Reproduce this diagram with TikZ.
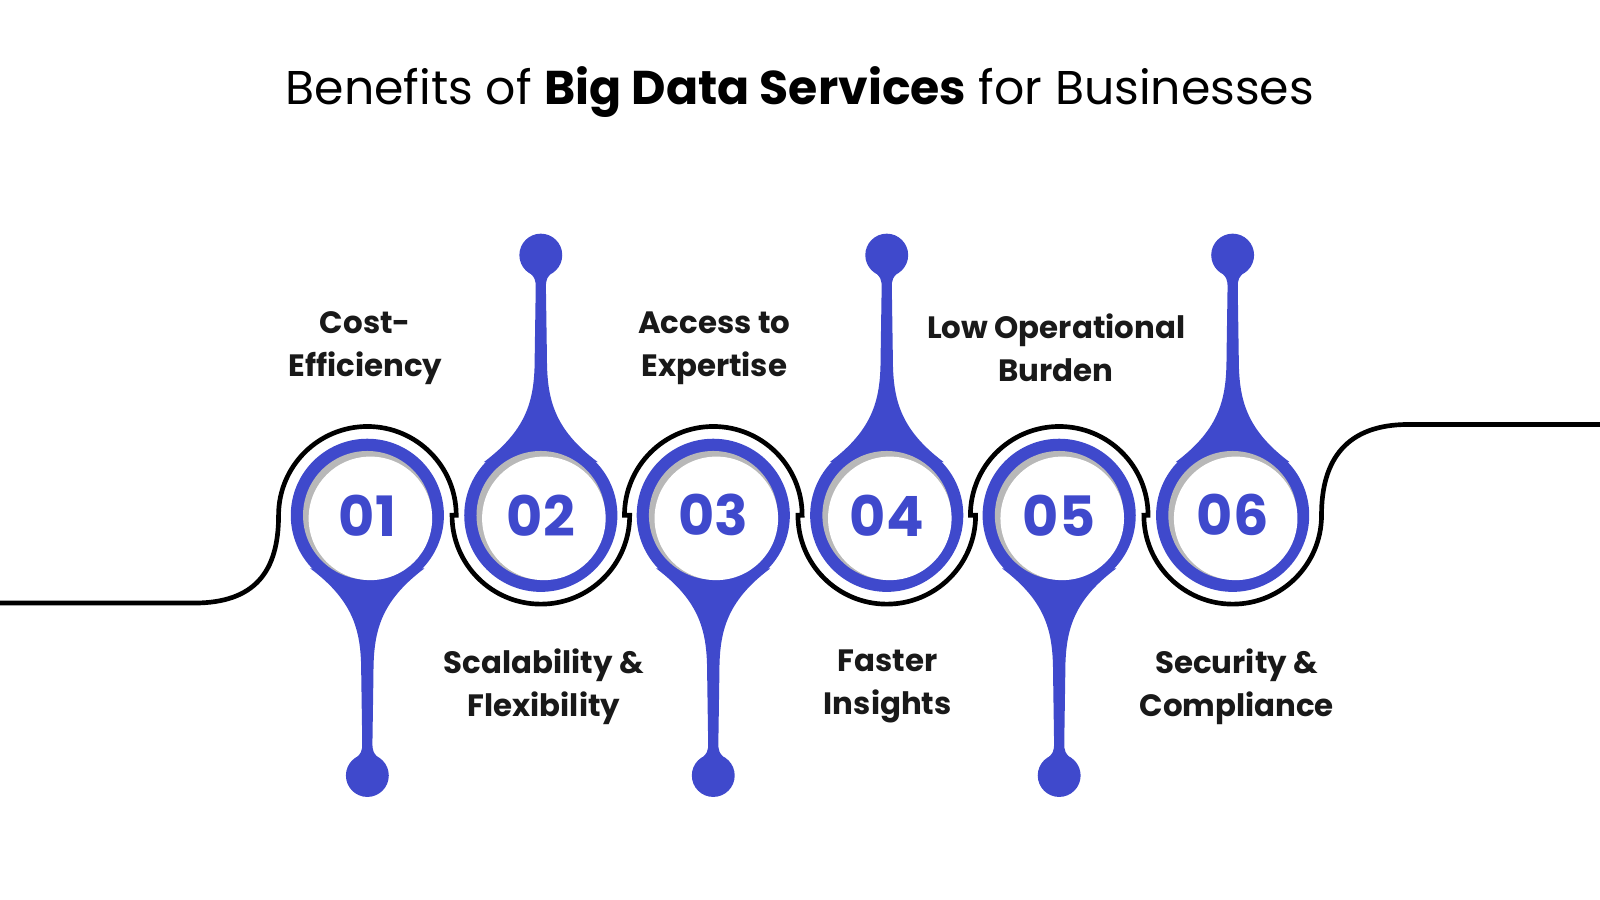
\documentclass[tikz,border=0pt]{standalone}
\usepackage{fontspec}
\setmainfont{Poppins}
\definecolor{bblue}{HTML}{3F49CC}
\begin{document}
\begin{tikzpicture}[x=0.01cm,y=0.01cm,
  lbl/.style={align=center,font=\fontsize{8.6pt}{12pt}\selectfont\bfseries\color{black!90}},
  num/.style={font=\fontsize{15.5pt}{16pt}\selectfont\bfseries\color{bblue}},
  tail/.pic={\fill[bblue] (-56,-52) .. controls (-12,-85) and (-6,-115) .. (-6,-155) -- (-5,-222) .. controls (-5,-232) .. (-15,-242) -- (15,-242) .. controls (5,-232) .. (5,-222) -- (6,-155) .. controls (6,-115) and (12,-85) .. (56,-52) -- cycle;
    \fill[bblue] (0,-255) circle[radius=0.21cm];}]
\useasboundingbox (0,0) rectangle (1568,-882);
\node[font=\fontsize{13.2pt}{16pt}\selectfont] (title) at (784,-90) {Benefits of \textbf{Big Data Services} for Businesses};
% black line
\draw[line width=1.3pt] (0,-591) -- (190,-591) .. controls (250,-591) and (273,-560) .. (273,-505)
  arc[start angle=180,end angle=0,radius=0.87cm] -- (443,-505)
  arc[start angle=180,end angle=360,radius=0.87cm] -- (612,-505)
  arc[start angle=180,end angle=0,radius=0.87cm] -- (782,-505)
  arc[start angle=180,end angle=360,radius=0.87cm] -- (951,-505)
  arc[start angle=180,end angle=0,radius=0.87cm] -- (1121,-505)
  arc[start angle=180,end angle=360,radius=0.87cm] .. controls (1295,-450) and (1320,-416) .. (1380,-416) -- (1568,-416);
\foreach \n/\x/\r in {01/360/0,02/530/180,03/699/0,04/869/180,05/1038/0,06/1208/180}{
  \pic[rotate=\r] at (\x,-505) {tail};
  \fill[bblue] (\x,-505) circle[radius=0.75cm];
  \fill[black!28] (\x,-505) circle[radius=0.63cm];
  \fill[white] (\x+3,-508) circle[radius=0.605cm];
  \node[num] (n\n) at (\x,-505) {\n};
}
\node[lbl] (l1) at (358,-341) {Cost-\\Efficiency};
\node[lbl] (l2) at (533,-673) {Scalability \&\\Flexibility};
\node[lbl] (l3) at (700,-341) {Access to\\Expertise};
\node[lbl] (l4) at (870,-673) {Faster\\Insights};
\node[lbl] (l5) at (1035,-341) {Low Operational\\Burden};
\node[lbl] (l6) at (1212,-673) {Security \&\\Compliance};
\end{tikzpicture}
\end{document}
